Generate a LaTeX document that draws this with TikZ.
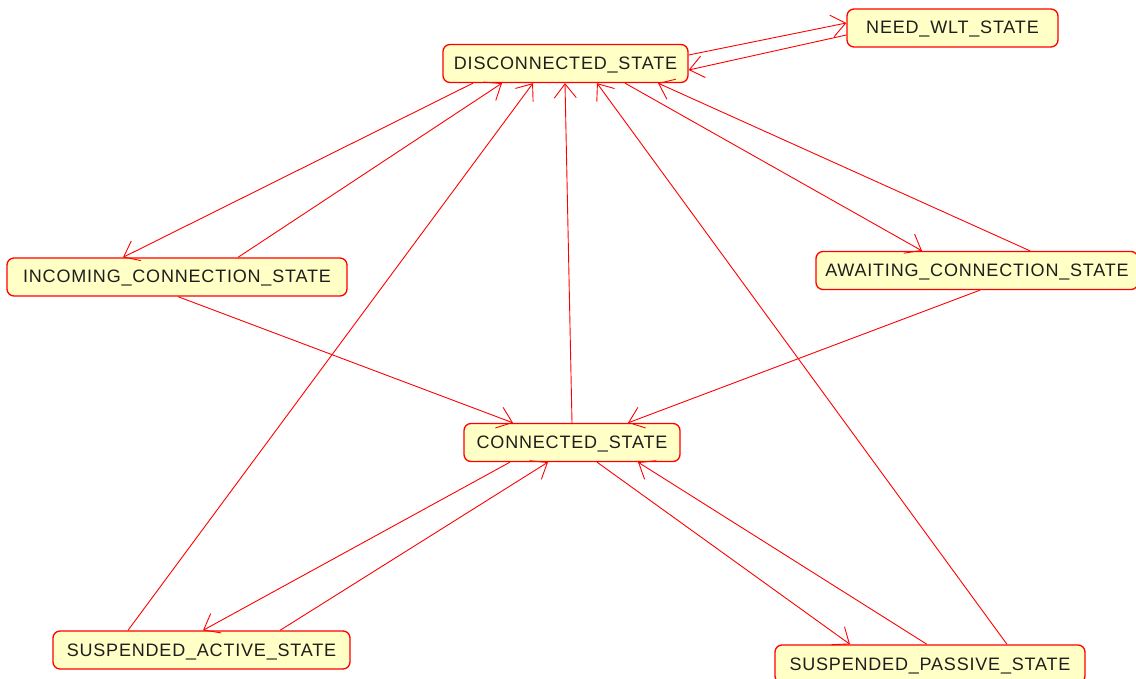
\documentclass[tikz,border=0pt]{standalone}
\usepackage{fontspec}
\setmainfont{Liberation Sans}
\newfontfamily\statefont[LetterSpace=4.5]{Liberation Sans}
\usetikzlibrary{arrows.meta}
\definecolor{yellowfill}{RGB}{255,255,198}
\definecolor{statetext}{RGB}{30,30,30}
\tikzset{
  state/.style={draw=red, fill=yellowfill, rounded corners=7pt, line width=1.3pt,
    minimum height=38pt, inner sep=0pt, text=statetext, text height=12pt, text depth=0pt,
    font=\statefont\fontsize{18pt}{20pt}\selectfont},
  arr/.style={draw=red, line width=0.9pt, -{Straight Barb[length=14pt,width=22pt,line width=0.9pt]}}
}
\begin{document}
\begin{tikzpicture}[x=1pt,y=-1pt]
\useasboundingbox (0,0) rectangle (1136,679);
\clip (0,0) rectangle (1136,679);
\node[state, minimum width=245pt] (disc) at (565.5,63.5) {DISCONNECTED\_STATE};
\node[state, minimum width=211pt] (need) at (952.5,28) {NEED\_WLT\_STATE};
\node[state, minimum width=340pt] (inc) at (177,277) {INCOMING\_CONNECTION\_STATE};
\node[state, minimum width=322pt] (await) at (977,270.5) {AWAITING\_CONNECTION\_STATE};
\node[state, minimum width=216pt] (conn) at (572,442.5) {CONNECTED\_STATE};
\node[state, minimum width=297pt] (sa) at (201.5,650) {SUSPENDED\_ACTIVE\_STATE};
\node[state, minimum width=310pt] (sp) at (930,664) {SUSPENDED\_PASSIVE\_STATE};

\draw[arr] ([yshift=8.5pt]disc.east) -- ([yshift=5pt]need.west);
\draw[arr] ([yshift=-7pt]need.west) -- ([yshift=-6.5pt]disc.east);
\draw[arr] ([xshift=-92.5pt]disc.south) -- ([xshift=-54pt]inc.north);
\draw[arr] ([xshift=61pt]inc.north) -- ([xshift=-63.5pt]disc.south);
\draw[arr] ([xshift=59.5pt]disc.south) -- ([xshift=-55pt]await.north);
\draw[arr] ([xshift=53pt]await.north) -- ([xshift=92.5pt]disc.south);
\draw[arr] ([xshift=1pt]inc.south) -- ([xshift=-59pt]conn.north);
\draw[arr] ([xshift=3pt]await.south) -- ([xshift=56pt]conn.north);
\draw[arr] (conn.north) -- ([xshift=-0.5pt]disc.south);
\draw[arr] ([xshift=-62pt]conn.south) -- ([xshift=1.5pt]sa.north);
\draw[arr] ([xshift=78.5pt]sa.north) -- ([xshift=-24pt]conn.south);
\draw[arr] ([xshift=25pt]conn.south) -- ([xshift=-80pt]sp.north);
\draw[arr] ([xshift=-3pt]sp.north) -- ([xshift=66pt]conn.south);
\draw[arr] ([xshift=-73.5pt]sa.north) -- ([xshift=-32.5pt]disc.south);
\draw[arr] ([xshift=77pt]sp.north) -- ([xshift=31.5pt]disc.south);
\end{tikzpicture}
\end{document}
